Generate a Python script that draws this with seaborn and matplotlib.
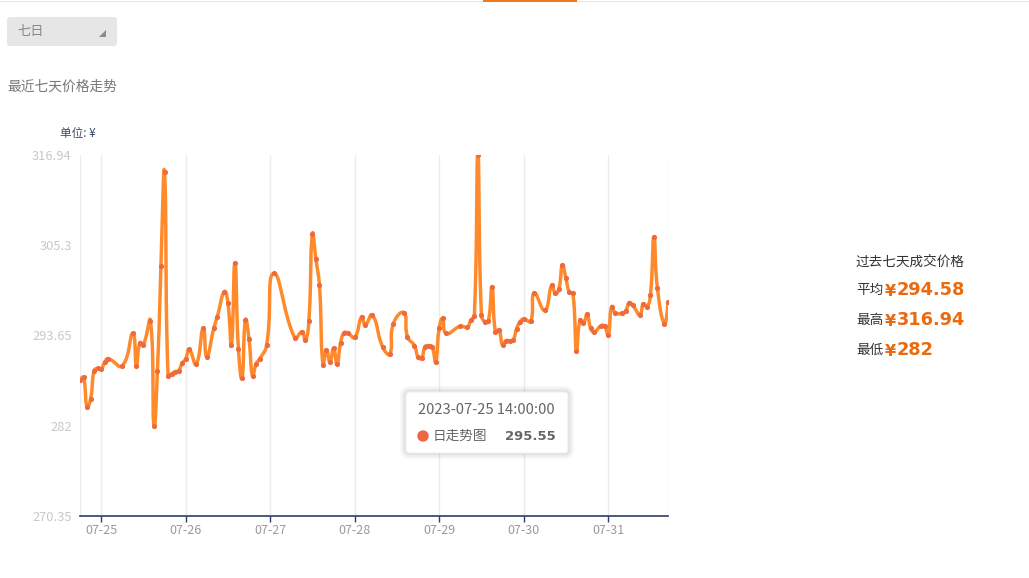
import numpy as np
import pandas as pd
import matplotlib
matplotlib.use('Agg')
import matplotlib.pyplot as plt
from matplotlib.patches import FancyBboxPatch, Rectangle, Polygon, Circle
from matplotlib.transforms import IdentityTransform
import seaborn as sns

# hours counted from 2023-07-25 00:00 (hourly quotes, some hours missing)
hours = [-6, -5, -4, -3, -2, -1, 0, 1, 2, 6, 9, 10, 11, 12, 14, 15, 16, 17, 18, 19,
         20, 21, 22, 23, 24, 25, 27, 29, 30, 32, 33, 35, 36, 37, 38, 39, 40, 41, 42, 43,
         44, 45, 47, 49, 55, 57, 58, 59, 60, 61, 62, 63, 64, 65, 66, 67, 68, 69, 70, 72,
         74, 75, 77, 80, 82, 83, 86, 87, 89, 90, 91, 92, 93, 94, 95, 96, 97, 98, 102, 104,
         105, 106, 107, 108, 109, 110, 111, 112, 113, 114, 115, 116, 117, 118, 119, 120, 122, 123, 126, 128,
         129, 130, 131, 132, 133, 134, 135, 136, 137, 138, 139, 140, 142, 143, 144, 145, 146, 148, 149, 150,
         151, 153, 154, 155, 156, 157, 158, 160, 161]
prices = [287.90, 288.25, 284.45, 285.41, 289.10, 289.41, 289.32, 290.18, 290.65, 289.75,
          293.93, 289.71, 292.71, 292.46, 295.55, 282.00, 289.10, 302.61, 314.71, 288.42,
          288.67, 288.97, 289.10, 290.06, 290.61, 291.86, 289.97, 294.57, 290.91, 294.57,
          296.07, 299.30, 297.88, 292.38, 303.04, 291.86, 288.16, 295.64, 293.19, 288.42,
          289.97, 290.61, 292.42, 301.67, 293.32, 294.10, 293.02, 295.48, 306.74, 303.48,
          300.20, 289.87, 291.77, 290.18, 291.99, 289.97, 292.68, 294.00, 293.97, 293.41,
          296.07, 295.00, 296.29, 292.12, 291.26, 295.17, 296.59, 293.49, 292.33, 290.87,
          290.70, 292.20, 292.33, 292.20, 290.22, 294.57, 295.86, 293.93, 294.83, 294.74,
          295.61, 296.16, 316.94, 296.33, 295.42, 295.55, 299.90, 294.06, 294.35, 292.42,
          292.97, 292.97, 293.06, 294.52, 295.42, 295.77, 295.48, 299.13, 296.90, 300.16,
          299.09, 299.61, 302.74, 301.03, 299.22, 299.09, 291.64, 295.64, 295.22, 296.38,
          294.65, 294.10, 294.91, 294.87, 293.67, 297.36, 296.59, 296.51, 296.84, 297.88,
          297.54, 296.33, 297.71, 297.36, 298.83, 306.40, 299.74, 295.17, 297.97]

day_labels = ['07-25', '07-26', '07-27', '07-28', '07-29', '07-30', '07-31']
y_ticks = [270.35, 282, 293.65, 305.3, 316.94]
summary_names = ['平均', '最高', '最低']
summary_values = ['294.58', '316.94', '282']
tip_time = '2023-07-25 14:00:00'
tip_series = '日走势图'
tip_value = '295.55'

W, H = 1029, 578
LINE = '#ff8a2b'
DOT = '#ee6a3c'
NAVY = '#2f3d63'

sns.set_theme(style='white')
plt.rcParams['font.family'] = ['Noto Sans CJK SC', 'DejaVu Sans']


def smooth_curve(x, y, sx, sy, smooth=0.5, n=20):
    # echarts style bezier smoothing, worked out in pixel space
    p = np.column_stack([np.asarray(x, float) * sx, np.asarray(y, float) * sy])
    m = len(p)
    before = p.copy()
    after = p.copy()
    for i in range(1, m - 1):
        v = p[i + 1] - p[i - 1]
        d0 = np.hypot(*(p[i] - p[i - 1]))
        d1 = np.hypot(*(p[i + 1] - p[i]))
        r = d1 / (d0 + d1)
        before[i] = p[i] - v * smooth * (1 - r)
        after[i] = p[i] + v * smooth * r
    t = np.linspace(0, 1, n)[:, None]
    segs = []
    for i in range(m - 1):
        a, b, c, d = p[i], after[i], before[i + 1], p[i + 1]
        seg = (1 - t) ** 3 * a + 3 * (1 - t) ** 2 * t * b + 3 * (1 - t) * t ** 2 * c + t ** 3 * d
        segs.append(seg if i == 0 else seg[1:])
    pts = np.vstack(segs)
    return pts[:, 0] / sx, pts[:, 1] / sy


df = pd.DataFrame({'hour': hours, 'price': prices})
cx, cy = smooth_curve(df['hour'], df['price'], 3.517, 7.748)
curve = pd.DataFrame({'hour': cx, 'price': cy})

fig = plt.figure(figsize=(W / 100, H / 100), dpi=100)
ax = fig.add_axes([80 / W, 62 / H, 588 / W, 361 / H])

xmin, xmax = df['hour'].min(), df['hour'].max()
day_pos = [24 * i for i in range(len(day_labels))]
for xv in [xmin, xmax] + day_pos:
    ax.axvline(xv, color='#ececec', lw=1, zorder=0)

sns.lineplot(data=curve, x='hour', y='price', ax=ax, color=LINE, lw=2.5,
             sort=False, estimator=None, zorder=3)
sns.scatterplot(data=df, x='hour', y='price', ax=ax, color=DOT, s=14,
                linewidth=0, zorder=4)

ax.set_xlim(xmin, xmax)
ax.set_ylim(y_ticks[0], y_ticks[-1])
ax.set_xticks(day_pos)
ax.set_xticklabels(day_labels, color='#999999', fontsize=9)
ax.set_yticks(y_ticks)
ax.set_yticklabels([f'{v:g}' for v in y_ticks], color='#c8c8c8', fontsize=9.3)
ax.set_xlabel('')
ax.set_ylabel('')
ax.grid(False)
for s in ['top', 'right', 'left']:
    ax.spines[s].set_visible(False)
ax.spines['bottom'].set_color(NAVY)
ax.spines['bottom'].set_linewidth(1.2)
ax.tick_params(axis='x', length=4, width=1, color=NAVY, direction='out', pad=2, bottom=True)
ax.tick_params(axis='y', length=0, pad=6)
ax.set_facecolor('white')

px = IdentityTransform()


def ftext(x, y, s, **kw):
    fig.text(x / W, 1 - y / H, s, va='center', **kw)


# top strip with active tab marker
fig.add_artist(Rectangle((0, H - 2), W, 1.5, transform=px, color='#e6e6e6', lw=0))
fig.add_artist(Rectangle((483, H - 2), 94, 2, transform=px, color='#f07a1a', lw=0))

# period selector
fig.add_artist(FancyBboxPatch((7, H - 46), 110, 29, boxstyle='round,pad=0,rounding_size=3',
                              transform=px, facecolor='#e6e6e6', edgecolor='none'))
ftext(17, 32, '七日', color='#888888', fontsize=9.5)
fig.add_artist(Polygon([(99, H - 37), (106, H - 37), (106, H - 30)], closed=True,
                       transform=px, color='#8a8a8a', lw=0))

ftext(7, 87, '最近七天价格走势', color='#777777', fontsize=9.9)
ftext(60, 133, '单位: ¥', color='#3b4a6b', fontsize=8.4)

# summary on the right
ftext(856, 262, '过去七天成交价格', color='#333333', fontsize=9.8)
for i, (name, val) in enumerate(zip(summary_names, summary_values)):
    y = 290 + 30 * i
    ftext(856, y, name, color='#333333', fontsize=9.8)
    ftext(885, y + 1, '¥', color='#ea6a10', fontsize=11.5, fontweight='bold', family='DejaVu Sans')
    ftext(897, y, val, color='#ea6a10', fontsize=12.8, fontweight='bold', family='DejaVu Sans')

# tooltip
for k, a in [(6, 0.03), (4, 0.04), (2, 0.05)]:
    fig.add_artist(FancyBboxPatch((406 - k, H - 453 - k), 162 + 2 * k, 61 + 2 * k,
                                  boxstyle=f'round,pad=0,rounding_size={4 + k}', transform=px,
                                  facecolor='black', alpha=a, edgecolor='none', zorder=9))
fig.add_artist(FancyBboxPatch((406, H - 453), 162, 61, boxstyle='round,pad=0,rounding_size=4',
                              transform=px, facecolor='white', edgecolor='#f0f0f0', lw=0.8, zorder=10))
fig.text(418 / W, 1 - 410 / H, tip_time, va='center', color='#666666', fontsize=10.6, zorder=11)
fig.add_artist(Circle((423, H - 436), 5, transform=px, color='#ee6644', zorder=11))
fig.text(433 / W, 1 - 436 / H, tip_series, va='center', color='#666666', fontsize=9.8, zorder=11)
fig.text(556 / W, 1 - 436 / H, tip_value, va='center', ha='right', color='#666666',
         fontsize=9.5, fontweight='bold', family='DejaVu Sans', zorder=11)

fig.savefig('out.png', dpi=100, facecolor='white')
